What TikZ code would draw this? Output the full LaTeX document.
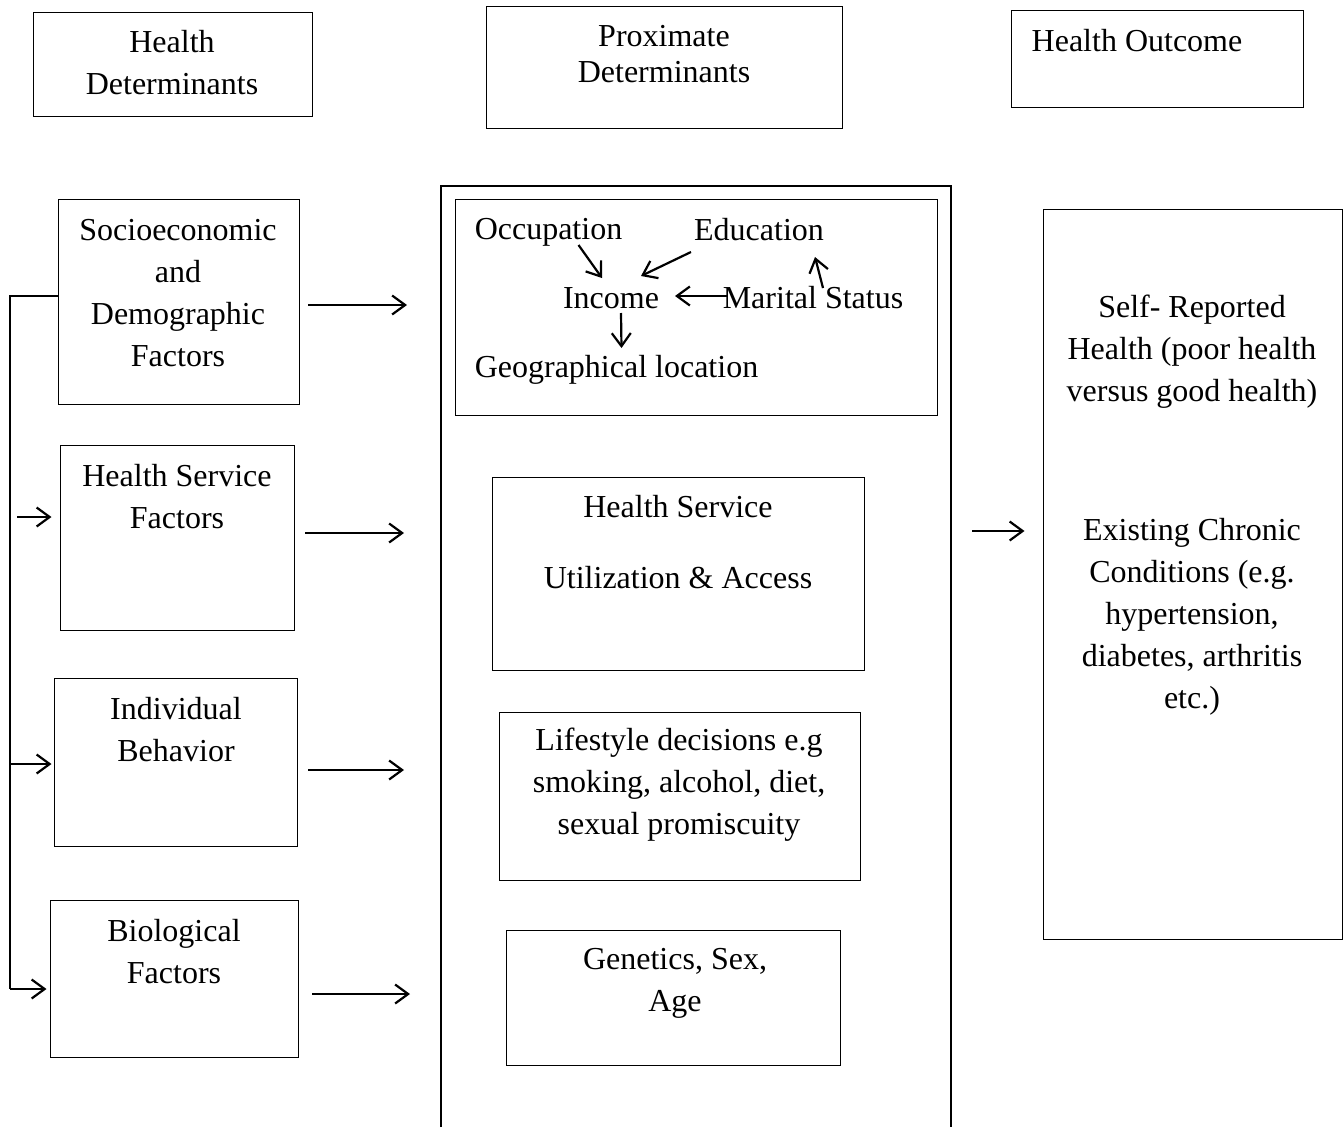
\documentclass[tikz,border=0pt]{standalone}
\usepackage{fontspec}
\setmainfont{Liberation Serif}
\usetikzlibrary{arrows.meta,calc}

\tikzset{
  box/.style={draw, line width=1pt, inner sep=0pt},
  txt/.style={align=center, inner sep=0pt, font=\fontsize{32}{42}\selectfont},
  arr/.style={line width=2.2pt, -{Straight Barb[length=13pt,width=19pt,line width=2.2pt]}}
}

\begin{document}
\begin{tikzpicture}[x=1pt,y=1pt,yscale=-1,xscale=1]
\useasboundingbox (0,0) rectangle (1343,1127);

%Top headings
\node[box, minimum width=279, minimum height=104] (hd) at (172.5,64) {};
\node[box, minimum width=356, minimum height=122] (pd) at (664,67) {};
\node[box, minimum width=292, minimum height=97] (ho) at (1157,58.5) {};
\node[txt] (hdtext) at (172,63) {Health\\Determinants};
\node[txt] (pdtext) at (664,54) {Proximate\\[-6pt]Determinants};
\node[txt] (hotext) at (1137,41) {Health Outcome};

%Left column
\node[box, minimum width=241, minimum height=205] (soc) at (178.5,301.5) {};
\node[box, minimum width=234, minimum height=185] (hsf) at (177,537.5) {};
\node[box, minimum width=243, minimum height=168] (ib) at (175.5,762) {};
\node[box, minimum width=248, minimum height=157] (bf) at (174,978.5) {};
\node[txt] (soctext) at (178,293) {Socioeconomic\\and\\Demographic\\Factors};
\node[txt] (hsftext) at (177,497) {Health Service\\Factors};
\node[txt] (ibtext) at (176,730) {Individual\\Behavior};
\node[txt] (bftext) at (174,952) {Biological\\Factors};

%Middle column (open at the bottom)
\coordinate (colL) at (441,186);
\draw[line width=1.6pt] (441,1127) -- (colL) -- (951,186) -- (951,1127);
\node[box, minimum width=482, minimum height=216] (sed) at (696,307) {};
\node[box, minimum width=372, minimum height=193] (hsu) at (678,573.5) {};
\node[box, minimum width=361, minimum height=168] (life) at (679.5,796) {};
\node[box, minimum width=334, minimum height=135] (gen) at (673,997.5) {};

\node[txt] (occ) at (548.5,232) {Occupation};
\node[txt] (edu) at (759,230) {Education};
\node[txt] (inc) at (611,298) {Income};
\node[txt] (mar) at (813,298) {Marital Status};
\node[txt] (geo) at (616.5,370) {Geographical location};
\node[txt] (hsutext) at (678,542) {Health Service\\[29pt]Utilization \& Access};
\node[txt] (lifetext) at (679,785) {Lifestyle decisions e.g\\smoking, alcohol, diet,\\sexual promiscuity};
\node[txt] (gentext) at (675,983) {Genetics, Sex,\\Age};

%Right column
\node[box, minimum width=299, minimum height=730] (out) at (1192.5,574) {};
\node[txt] (srh) at (1192,352) {Self- Reported\\Health (poor health\\versus good health)};
\node[txt] (ecc) at (1192,617) {Existing Chronic\\Conditions (e.g.\\hypertension,\\diabetes, arthritis\\etc.)};

%Arrows inside the socioeconomic box
\draw[arr] ($(occ)+(30,13)$) -- ($(inc)+(-9,-20)$);
\draw[arr] ($(edu)+(-68,22)$) -- ($(inc)+(30,-22)$);
\draw[arr] ($(mar)+(-86,-2)$) -- ($(inc)+(64,-2)$);
\draw[arr] ($(mar)+(10,-10)$) -- ($(edu)+(56,27)$);
\draw[arr] ($(inc)+(10,15)$) -- ($(geo)+(5,-22)$);

%Arrows from the left column to the middle column
\coordinate (s1) at (308,305);
\coordinate (s2) at (305,533);
\coordinate (s3) at (308,770);
\coordinate (s4) at (312,994);
\draw[arr] (s1) -- ([xshift=-34pt]s1 -| colL);
\draw[arr] (s2) -- ([xshift=-37pt]s2 -| colL);
\draw[arr] (s3) -- ([xshift=-37pt]s3 -| colL);
\draw[arr] (s4) -- ([xshift=-31pt]s4 -| colL);

%Arrow to the outcome
\coordinate (m1) at (972,531);
\draw[arr] (m1) -- ([xshift=-18pt]m1 -| out.west);

%Left bracket
\coordinate (b1) at (10,296);
\coordinate (b4) at (10,989);
\draw[line width=2pt] (b1 -| soc.west) -- (b1) -- (b4);
\draw[arr] (b4) -- ([xshift=-3pt]b4 -| bf.west);
\coordinate (b2) at (17,517);
\draw[arr] (b2) -- ([xshift=-8pt]b2 -| hsf.west);
\coordinate (b3) at (10,764);
\draw[arr] (b3) -- ([xshift=-2pt]b3 -| ib.west);

\end{tikzpicture}
\end{document}
